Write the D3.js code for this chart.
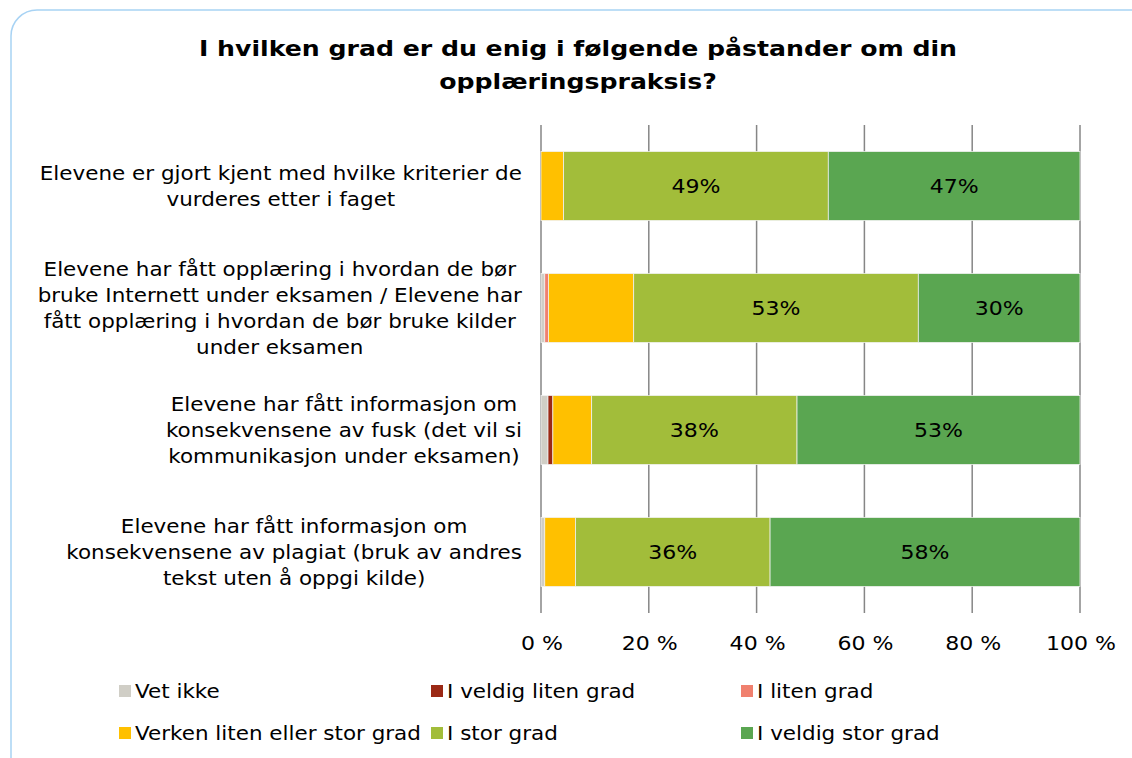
<!DOCTYPE html>
<html>
<head>
<meta charset="UTF-8">
<title>Opplæringspraksis</title>
<script src="https://cdn.jsdelivr.net/npm/d3@7/dist/d3.min.js"></script>
<style>
  body { margin: 0; background: #fff; }
  text { font-family: "DejaVu Sans", Verdana, sans-serif; fill: #000; }
</style>
</head>
<body>
<svg id="chart" width="1132" height="758"></svg>
<script>
// kategorier (linjer per etikett)
var categories = [
  ["Elevene er gjort kjent med hvilke kriterier de", "vurderes etter i faget"],
  ["Elevene har fått opplæring i hvordan de bør", "bruke Internett under eksamen / Elevene har", "fått opplæring i hvordan de bør bruke kilder", "under eksamen"],
  ["Elevene har fått informasjon om", "konsekvensene av fusk (det vil si", "kommunikasjon under eksamen)"],
  ["Elevene har fått informasjon om", "konsekvensene av plagiat (bruk av andres", "tekst uten å oppgi kilde)"]
];
var seriesNames = ["Vet ikke", "I veldig liten grad", "I liten grad", "Verken liten eller stor grad", "I stor grad", "I veldig stor grad"];
var seriesColors = ["#d0cec6", "#9b2915", "#f0806e", "#ffc000", "#a2bd3a", "#5aa651"];
// prosent per serie, en verdi per kategori
var vetIkke      = [0.0, 0.7, 1.3, 0.7];
var veldigLiten  = [0.0, 0.0, 0.9, 0.0];
var liten        = [0.0, 0.7, 0.0, 0.0];
var verken       = [4.2, 15.8, 7.2, 5.7];
var stor         = [49.1, 52.8, 38.1, 36.1];
var veldigStor   = [46.7, 30.0, 52.5, 57.5];
var tickLabels = ["0 %", "20 %", "40 %", "60 %", "80 %", "100 %"];

var seriesValues = [vetIkke, veldigLiten, liten, verken, stor, veldigStor];

var svg = d3.select("#chart");
var font = '"DejaVu Sans", Verdana, sans-serif';
var fs = 19, sx = 1.13;   // Verdana er bredere enn DejaVu, strekk teksten litt

function place(px, py, s) {
  return "translate(" + px + "," + py + ") scale(" + (s || sx) + ",1)";
}

// ramme
svg.append("rect")
  .attr("x", 11).attr("y", 10)
  .attr("width", 1150).attr("height", 780)
  .attr("rx", 26).attr("ry", 26)
  .attr("fill", "#fff")
  .attr("stroke", "#a8d3f4")
  .attr("stroke-width", 1.5);

// tittel
var title = ["I hvilken grad er du enig i følgende påstander om din", "opplæringspraksis?"];
svg.append("g").selectAll("text")
  .data(title).enter().append("text")
  .attr("transform", function(d, i) { return place(578, 56 + i * 33, 1.145); })
  .attr("text-anchor", "middle")
  .style("font-size", "22px")
  .style("font-weight", "bold")
  .text(function(d) { return d; });

var x = d3.scaleLinear().domain([0, 100]).range([541, 1080]);
var y = d3.scaleBand().domain(d3.range(categories.length)).range([125, 613]).paddingInner(0.435).paddingOuter(0.2175);

// rutenett
svg.append("g").selectAll("line")
  .data(d3.range(0, 101, 20)).enter().append("line")
  .attr("x1", function(d) { return x(d); })
  .attr("x2", function(d) { return x(d); })
  .attr("y1", 125).attr("y2", 613)
  .attr("stroke", "#868686")
  .attr("stroke-width", 1.5);

// stablet data
var rows = categories.map(function(c, i) {
  var o = { idx: i };
  seriesNames.forEach(function(s, j) { o[s] = seriesValues[j][i]; });
  return o;
});
var stacked = d3.stack().keys(seriesNames)(rows);

var layers = svg.append("g").selectAll("g")
  .data(stacked).enter().append("g")
  .attr("fill", function(d, i) { return seriesColors[i]; });

layers.selectAll("rect")
  .data(function(d) { return d; }).enter().append("rect")
  .filter(function(d) { return d[1] - d[0] > 0; })
  .attr("x", function(d) { return x(d[0]); })
  .attr("width", function(d) { return x(d[1]) - x(d[0]); })
  .attr("y", function(d) { return y(d.data.idx); })
  .attr("height", y.bandwidth())
  .attr("stroke", "#f2f2f2")
  .attr("stroke-width", 0.75);

// verdietiketter for de to siste seriene
stacked.forEach(function(layer, j) {
  if (j < 4) return;
  svg.append("g").selectAll("text")
    .data(layer).enter().append("text")
    .attr("transform", function(d) {
      return place((x(d[0]) + x(d[1])) / 2, y(d.data.idx) + y.bandwidth() / 2, 1.16);
    })
    .attr("dy", "0.35em")
    .attr("text-anchor", "middle")
    .style("font-size", fs + "px")
    .text(function(d) { return Math.round(d[1] - d[0]) + "%"; });
});

// kategorietiketter, sentrert på bredeste linje med høyre kant ved 522
var ctx = document.createElement("canvas").getContext("2d");
ctx.font = fs + "px " + font;
function textW(s) { return ctx.measureText(s).width * sx; }
categories.forEach(function(lines, i) {
  var w = d3.max(lines, textW);
  var cx = 522 - w / 2;
  var cy = y(i) + y.bandwidth() / 2;
  var lh = 26;
  svg.append("g").selectAll("text")
    .data(lines).enter().append("text")
    .attr("transform", function(d, k) { return place(cx, cy + (k - (lines.length - 1) / 2) * lh); })
    .attr("dy", "0.35em")
    .attr("text-anchor", "middle")
    .style("font-size", fs + "px")
    .text(function(d) { return d; });
});

// akse-etiketter
svg.append("g").selectAll("text")
  .data(tickLabels).enter().append("text")
  .attr("transform", function(d, i) { return place(x(i * 20) + 1, 650, 1.16); })
  .attr("text-anchor", "middle")
  .style("font-size", fs + "px")
  .text(function(d) { return d; });

// tegnforklaring
var legX = [119, 431, 741];
var leg = svg.append("g").selectAll("g")
  .data(seriesNames).enter().append("g")
  .attr("transform", function(d, i) {
    return "translate(" + legX[i % 3] + "," + (691 + Math.floor(i / 3) * 42) + ")";
  });
leg.append("rect")
  .attr("x", 0).attr("y", -6)
  .attr("width", 12).attr("height", 12)
  .attr("fill", function(d, i) { return seriesColors[i]; });
leg.append("text")
  .attr("transform", place(16, 0))
  .attr("dy", "0.35em")
  .style("font-size", fs + "px")
  .text(function(d) { return d; });
</script>
</body>
</html>
